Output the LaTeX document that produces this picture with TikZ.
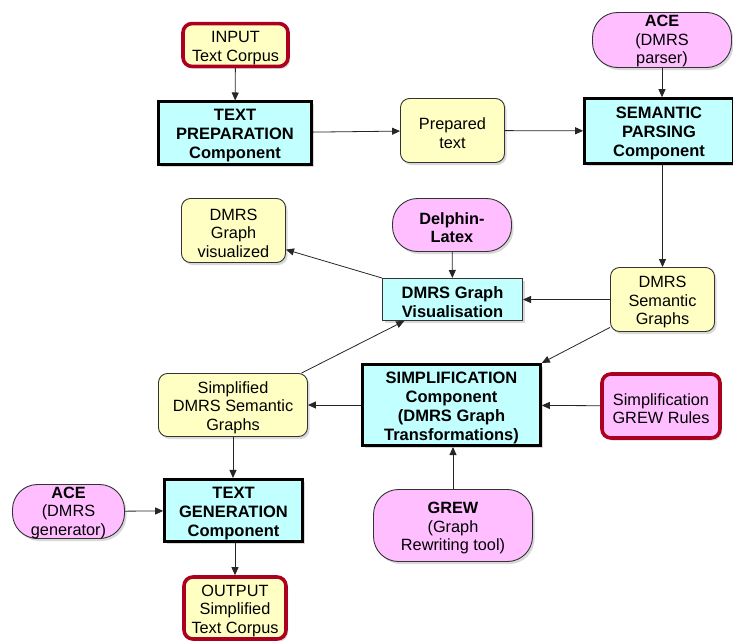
\documentclass[tikz,border=0pt]{standalone}
\usepackage{fontspec}
\setmainfont{Liberation Sans}
\usetikzlibrary{arrows.meta,shadows}
\definecolor{compcyan}{RGB}{194,255,255}
\definecolor{datayellow}{RGB}{255,255,196}
\definecolor{toolpink}{RGB}{255,190,255}
\definecolor{iored}{RGB}{172,0,32}
% tall strut on the first line: sets the text a little low in each box
\newcommand\topgap{\rule{0pt}{17pt}}
% shorter strut for the tight three-line pills
\newcommand\smallgap{\rule{0pt}{13.5pt}}
\begin{document}
\begin{tikzpicture}[x=1pt,y=-1pt,
  base/.style={align=center, inner sep=2pt,
    drop shadow={shadow xshift=2pt,shadow yshift=-2.5pt,opacity=0.3}},
  comp/.style={base, draw=black, line width=2.6pt, fill=compcyan,
    font=\fontsize{16.5}{19}\selectfont\bfseries},
  viscomp/.style={base, draw=black!80, line width=1pt, fill=compcyan,
    font=\fontsize{16.5}{19}\selectfont\bfseries},
  data/.style={base, draw=black!80, line width=0.9pt, fill=datayellow,
    rounded corners=9pt, font=\fontsize{16.3}{18.5}\selectfont},
  tool/.style={base, draw=black!80, line width=0.9pt, fill=toolpink,
    rounded corners=25pt, font=\fontsize{16.3}{18.5}\selectfont},
  tighttool/.style={tool, inner ysep=0pt},
  io/.style={base, draw=iored, line width=3.6pt, fill=datayellow,
    rounded corners=9pt, font=\fontsize{16.3}{18.5}\selectfont},
  rules/.style={base, draw=iored, line width=3.6pt, fill=toolpink,
    rounded corners=9pt, font=\fontsize{16.3}{18.5}\selectfont},
  flow/.style={-{Triangle[length=8pt,width=7pt]}, line width=0.8pt, draw=black!85}
]
\useasboundingbox (0,0) rectangle (733,640);

% first row: text preparation and parsing
\node[io, minimum width=105pt, minimum height=42pt] (input) at (235.5,45)
  {\topgap INPUT\\Text Corpus};
\node[comp, minimum width=153pt, minimum height=59pt] (prep) at (235,133)
  {\topgap TEXT\\PREPARATION\\Component};
\node[data, minimum width=104pt, minimum height=64pt] (prepared) at (452.5,130.5)
  {\topgap Prepared\\text};
\node[tighttool, minimum width=139pt, minimum height=55pt] (aceparse) at (662,40)
  {\smallgap\textbf{ACE}\\(DMRS\\parser)};
\node[comp, minimum width=149pt, minimum height=65pt] (parse) at (659,131)
  {\topgap SEMANTIC\\PARSING\\Component};

% second row: visualisation
\node[data, minimum width=104pt, minimum height=64pt] (visualized) at (233.5,230.5)
  {\topgap DMRS\\Graph\\visualized};
\node[tool, minimum width=119pt, minimum height=53pt] (delphin) at (452,225)
  {\topgap\textbf{Delphin-}\\\textbf{Latex}};
\node[viscomp, minimum width=140pt, minimum height=42pt] (vis) at (452.5,299.5)
  {\topgap DMRS Graph\\Visualisation};
\node[data, minimum width=104pt, minimum height=64pt] (semgraphs) at (662.5,299.5)
  {\topgap DMRS\\Semantic\\Graphs};

% third row: simplification
\node[data, minimum width=149pt, minimum height=63pt] (simpgraphs) at (233,405)
  {\topgap Simplified\\DMRS Semantic\\Graphs};
\node[comp, minimum width=178pt, minimum height=81pt] (simp) at (451.5,405)
  {\topgap SIMPLIFICATION\\Component\\(DMRS Graph\\Transformations)};
\node[rules, minimum width=118pt, minimum height=64pt] (rules) at (661,406)
  {\topgap Simplification\\GREW Rules};

% fourth row: generation
\node[tighttool, minimum width=112pt, minimum height=54pt] (acegen) at (68.5,511.5)
  {\smallgap\textbf{ACE}\\(DMRS\\generator)};
\node[comp, minimum width=138pt, minimum height=58pt] (gen) at (233.5,510.5)
  {\topgap TEXT\\GENERATION\\Component};
\node[tool, minimum width=159pt, minimum height=72pt] (grew) at (453,525.5)
  {\topgap\textbf{GREW}\\(Graph\\Rewriting tool)};
\node[io, minimum width=102pt, minimum height=62pt] (output) at (235,608)
  {\topgap OUTPUT\\Simplified\\Text Corpus};

% connectors
\draw[flow] (input) -- (prep);
\draw[flow] (prep) -- (prepared);
\draw[flow] (prepared) -- (parse);
\draw[flow] (aceparse) -- (aceparse |- parse.north);
\draw[flow] (parse.south -| semgraphs) -- (semgraphs);
\draw[flow] (semgraphs) -- (vis);
\draw[flow] (semgraphs.208) -- (simp.north east);
\draw[flow] (delphin) -- (vis);
\draw[flow] (vis.north west) -- (visualized.-20);
\draw[flow] (simpgraphs.25) -- (vis.204);
\draw[flow] (simp) -- (simpgraphs);
\draw[flow] (rules) -- (simp);
\draw[flow] (grew) -- (grew |- simp.south);
\draw[flow] (simpgraphs) -- (simpgraphs |- gen.north);
\draw[flow] (acegen) -- (gen);
\draw[flow] (gen.south -| output) -- (output);
\end{tikzpicture}
\end{document}
